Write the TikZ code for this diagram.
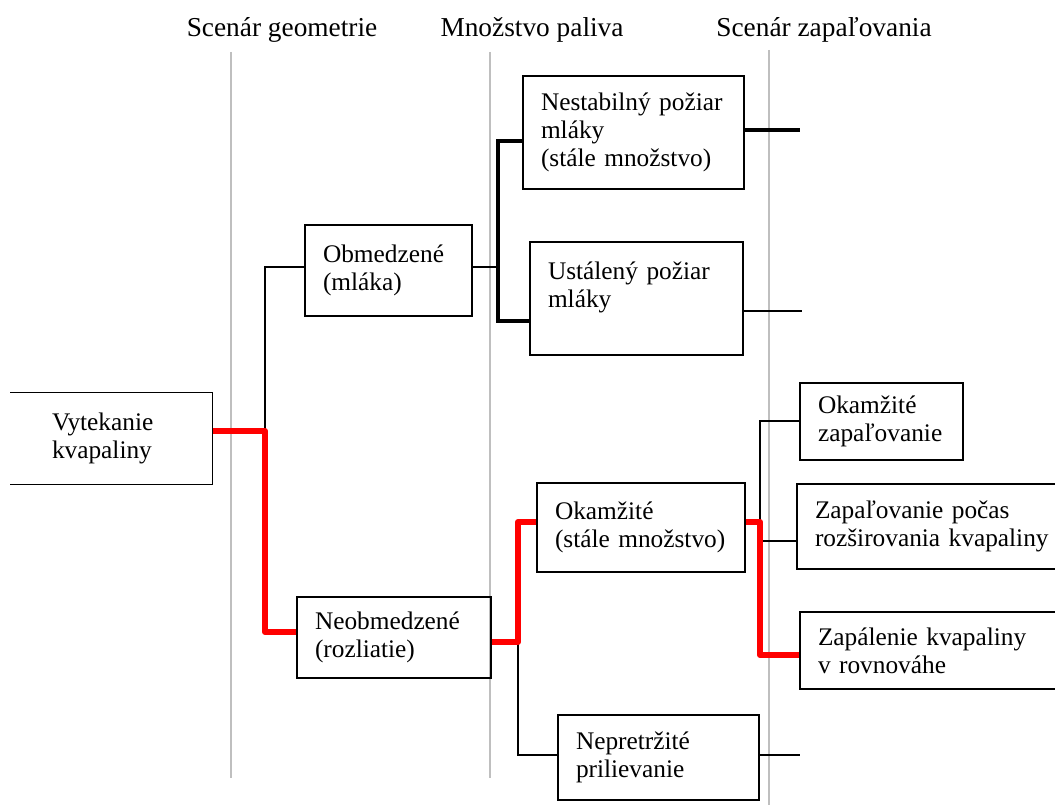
\documentclass[tikz,border=0pt]{standalone}
\usepackage{fontspec}
\setmainfont{Liberation Serif}
\hyphenpenalty=10000
\exhyphenpenalty=10000
\tikzset{
  box/.style={draw, line width=1.1pt, rectangle, align=left, inner xsep=13.5pt, inner ysep=0pt, font=\fontsize{19}{21}\selectfont},
  head/.style={anchor=base, font=\fontsize{20.5}{24}\selectfont},
  guide/.style={draw=black!25, line width=1.1pt},
  thinline/.style={line width=1.1pt},
  thickline/.style={line width=2.3pt},
  redline/.style={red, line width=4.6pt, line join=round},
}
\begin{document}
\begin{tikzpicture}[x=0.75pt, y=-0.75pt]

\clip ( 0, 0 ) rectangle ( 1055, 805 );

% Column guides
\draw [guide] ( 231, 52 ) -- ( 231, 778 );
\draw [guide] ( 490, 52 ) -- ( 490, 778 );
\draw [guide] ( 769, 50 ) -- ( 769, 805 );

% Column headings
\node [head] (hgeo) at ( 282, 37 ) {Scenár geometrie};
\node [head] (hpal) at ( 532, 37 ) {Množstvo paliva};
\node [head] (hzap) at ( 824, 37 ) {Scenár zapaľovania};

% Boxes
\node [box, draw=none, inner xsep=30.75pt, text width=89.25pt, minimum width=150.75pt, minimum height=68.25pt] (vyt) at ( 111.5, 438.5 ) {Vytekanie\\kvapaliny};
\draw [thinline] (vyt.north west) -- (vyt.north east) -- (vyt.south east) -- (vyt.south west);

\node [box, text width=98.25pt, minimum width=125.25pt, minimum height=68.25pt] (obm) at ( 388.5, 270.5 ) {Obmedzené\\(mláka)};
\node [box, text width=118.5pt, minimum width=145.5pt, minimum height=60.75pt] (neo) at ( 394, 637.5 ) {Neobmedzené\\(rozliatie)};

\node [box, text width=138.75pt, minimum width=165.75pt, minimum height=84.75pt] (nes) at ( 633.5, 132.5 ) {Nestabilný požiar\\mláky\\(stále množstvo)};
\node [box, text width=132.75pt, minimum width=159.75pt, minimum height=84.75pt] (ust) at ( 636.5, 298.5 ) {Ustálený požiar\\mláky\\\mbox{}};
\node [box, text width=129pt, minimum width=156pt, minimum height=66.75pt] (oka) at ( 641, 527.5 ) {Okamžité\\(stále množstvo)};
\node [box, text width=123.75pt, minimum width=150.75pt, minimum height=63.75pt] (nep) at ( 658.5, 757.5 ) {Nepretržité\\prilievanie};

\node [box, text width=95.25pt, minimum width=122.25pt, minimum height=57.75pt] (okz) at ( 881.5, 421.5 ) {Okamžité\\zapaľovanie};
\node [box, text width=181.5pt, minimum width=208.5pt, minimum height=63.75pt] (zpr) at ( 936, 526.5 ) {Zapaľovanie počas\\rozširovania kvapaliny};
\node [box, text width=179.25pt, minimum width=206.25pt, minimum height=57.75pt] (zap) at ( 937.5, 650.5 ) {Zapálenie kvapaliny\\v rovnováhe};

% Junction points
\coordinate (jA) at ( 265, 431 );
\coordinate (jA1) at ( 265, 267 );
\coordinate (jA2) at ( 265, 632 );
\coordinate (jB) at ( 498, 267 );
\coordinate (jB1) at ( 498, 141 );
\coordinate (jB2) at ( 498, 321 );
\coordinate (jC) at ( 518, 642 );
\coordinate (jC1) at ( 518, 522 );
\coordinate (jC2) at ( 518, 755 );
\coordinate (jD) at ( 760, 522 );
\coordinate (jD1) at ( 760, 421 );
\coordinate (jD2) at ( 760, 655 );
\coordinate (jD3) at ( 760, 541 );

% Loose ends
\coordinate (eN) at ( 800, 130 );
\coordinate (eU) at ( 802, 311 );
\coordinate (eP) at ( 800, 755 );

% Geometry branch
\draw [thinline] (jA) -- (jA1) -- (obm.west |- jA1);
\draw [redline] (vyt.east |- jA) -- (jA) -- (jA2) -- (neo.west |- jA2);

% Confined pool
\draw [thinline] (obm.east |- jB) -- (jB);
\draw [thickline] (nes.west |- jB1) -- (jB1) -- (jB2) -- (ust.west |- jB2);
\draw [thickline] (nes.east |- eN) -- (eN);
\draw [thinline] (ust.east |- eU) -- (eU);

% Unconfined spill
\draw [thinline] (jC) -- (jC2) -- (nep.west |- jC2);
\draw [redline] (neo.east |- jC) -- (jC) -- (jC1) -- (oka.west |- jC1);
\draw [thinline] (nep.east |- eP) -- (eP);

% Ignition
\draw [thinline] (jD) -- (jD1) -- (okz.west |- jD1);
\draw [thinline] (jD3) -- (zpr.west |- jD3);
\draw [redline] (oka.east |- jD) -- (jD) -- (jD2) -- (zap.west |- jD2);

\end{tikzpicture}
\end{document}
